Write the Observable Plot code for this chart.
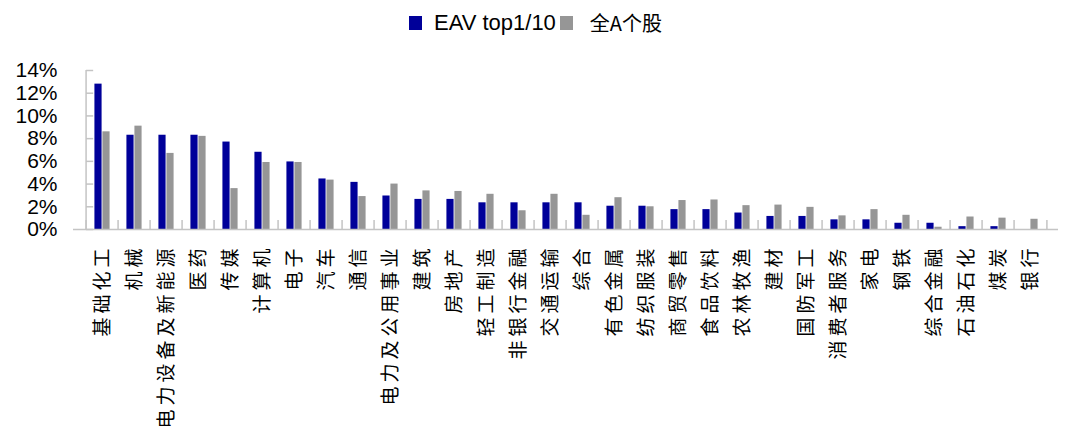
<!DOCTYPE html>
<html><head><meta charset="utf-8">
<script src="https://cdn.jsdelivr.net/npm/d3@7"></script>
<script src="https://cdn.jsdelivr.net/npm/@observablehq/plot@0.6"></script>
<style>
body{margin:0;background:#fff;}
#legend{height:45px;display:flex;justify-content:center;align-items:center;font-family:"Liberation Sans",Arial,sans-serif;font-size:22px;color:#000;}
#legend .sw{display:inline-block;width:13px;height:14px;}
#legend .lab{white-space:nowrap;}
#legend .cjk{font-family:"Noto Sans CJK SC",sans-serif;font-size:20px;}
svg text[transform*="rotate"], svg [transform*="rotate"] text{letter-spacing:4px;}
</style></head><body>
<div id="legend"></div>
<div id="chart"></div>
<script>
const categories = ["基础化工","机械","电力设备及新能源","医药","传媒","计算机","电子","汽车","通信","电力及公用事业","建筑","房地产","轻工制造","非银行金融","交通运输","综合","有色金属","纺织服装","商贸零售","食品饮料","农林牧渔","建材","国防军工","消费者服务","家电","钢铁","综合金融","石油石化","煤炭","银行"];
const seriesNames = ["EAV top1/10","全A个股"];
const eavTop = [12.8,8.3,8.3,8.3,7.7,6.8,5.95,4.45,4.15,2.95,2.65,2.65,2.35,2.35,2.35,2.35,2.05,2.05,1.75,1.75,1.45,1.15,1.15,0.85,0.85,0.55,0.55,0.25,0.25,0];
const allA = [8.6,9.1,6.7,8.2,3.6,5.9,5.9,4.35,2.9,4.0,3.4,3.35,3.1,1.65,3.1,1.25,2.8,2.0,2.55,2.6,2.1,2.15,1.95,1.2,1.75,1.25,0.2,1.1,1.0,0.9];
const yTicks = [0,2,4,6,8,10,12,14];
const colors = ["#000099","#969696"];
const axisColor = "#c4c4c4";

// legend
const lg = document.getElementById("legend");
lg.innerHTML =
  `<span class="sw" style="background:${colors[0]}"></span><span class="lab" style="margin-left:12px">${seriesNames[0]}</span>` +
  `<span class="sw" style="background:${colors[1]};margin-left:4px"></span><span class="lab cjk" style="margin-left:17px">${seriesNames[1]}</span>`;

const W = 1071, H = 396, mL = 73, mR = 13, mT = 25, mB = 212;
const half = (W - mL - mR) / categories.length / 2;
const barW = 8;
const rows = categories.flatMap((c, i) => [
  {cat: c, series: seriesNames[0], v: eavTop[i]},
  {cat: c, series: seriesNames[1], v: allA[i]}
]);

const chart = Plot.plot({
  width: W, height: H,
  marginLeft: mL, marginRight: mR, marginTop: mT, marginBottom: mB,
  x: {type: "band", domain: categories, padding: 0, axis: null},
  y: {domain: [0, 14], axis: null},
  marks: [
    Plot.rectY(rows.filter(d => d.series === seriesNames[0]), {x: "cat", y: "v", fill: colors[0], insetLeft: half - barW, insetRight: half}),
    Plot.rectY(rows.filter(d => d.series === seriesNames[1]), {x: "cat", y: "v", fill: colors[1], insetLeft: half, insetRight: half - barW}),
    Plot.ruleY([0], {stroke: axisColor, strokeWidth: 1.5}),
    Plot.ruleX(categories, {x: d => d, dx: -half, y1: 0, y2: 0.8, stroke: axisColor, strokeWidth: 1.5}),
    Plot.ruleX([categories[categories.length - 1]], {x: d => d, dx: half, y1: 0, y2: 0.8, stroke: axisColor, strokeWidth: 1.5}),
    Plot.ruleX([categories[0]], {x: d => d, dx: -half, y1: 0, y2: 14, stroke: axisColor, strokeWidth: 1.5}),
    Plot.tickY(yTicks, {y: d => d, x: () => categories[0], insetRight: 2 * half - barW, stroke: axisColor, strokeWidth: 1.5}),
    Plot.text(yTicks, {y: d => d, text: d => d + "%", frameAnchor: "left", textAnchor: "end", dx: -16, fontSize: 21, fontFamily: "Liberation Sans, Arial, sans-serif", fill: "#000"}),
    Plot.text(categories, {x: d => d, text: d => d, frameAnchor: "bottom", rotate: -90, textAnchor: "end", lineAnchor: "middle", dy: 15, fontSize: 19, fontFamily: "Noto Sans CJK SC, sans-serif", fill: "#000"})
  ]
});
document.getElementById("chart").appendChild(chart);
</script>
</body></html>
